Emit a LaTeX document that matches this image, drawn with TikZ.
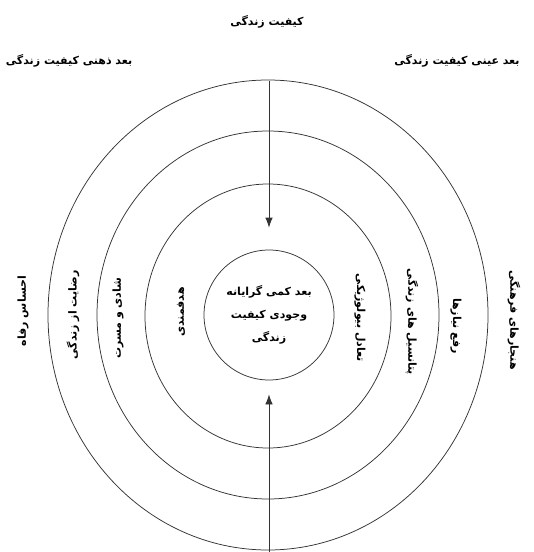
\documentclass[tikz,border=0pt]{standalone}
\usepackage{fontspec}
\newfontfamily\arabicfont[Script=Arabic]{DejaVu Sans}
\TeXXeTstate=1
\usetikzlibrary{arrows.meta}
\newcommand{\rl}[1]{\beginR #1\endR}

\begin{document}
\begin{tikzpicture}[
  x=1pt,
  y=-1pt,
  font=\arabicfont\bfseries\fontsize{11}{23}\selectfont,
  line/.style={draw=black!80,line width=0.75pt},
  arrow/.style={line,-{Latex[length=10pt,width=7.5pt]}},
  ring/.style={line},
  lefttext/.style={rotate=90},
  righttext/.style={rotate=-90}
]
\useasboundingbox (0,0) rectangle (534,552);

% Headings
\node (title) at (267,22) {\rl{کیفیت زندگی}};
\node (subjective) at (69,61) {\rl{بعد ذهنی کیفیت زندگی}};
\node (objective) at (457,61) {\rl{بعد عینی کیفیت زندگی}};

% Rings
\draw[ring] (268,315) ellipse [x radius=220, y radius=235];
\draw[ring] (268,315) ellipse [x radius=171, y radius=184];
\draw[ring] (268,316) ellipse [x radius=123, y radius=132];

% Core
\node[line,circle,minimum size=130pt,inner sep=0pt,align=center] (core) at (269,315)
  {\rl{بعد کمی گرایانه}\\\rl{وجودی کیفیت}\\\rl{زندگی}};

% Subjective side
\node[lefttext] (welfare) at (23,311) {\rl{احساس رفاه}};
\node[lefttext] (satisfaction) at (73,315) {\rl{رضایت از زندگی}};
\node[lefttext] (joy) at (118,318) {\rl{شادی و مسرت}};
\node[lefttext] (purpose) at (181,312) {\rl{هدفمندی}};

% Objective side
\node[righttext] (balance) at (360,318) {\rl{تعادل بیولوژیکی}};
\node[righttext] (potential) at (412,322) {\rl{پتانسیل های زندگی}};
\node[righttext] (needs) at (456,326) {\rl{رفع نیازها}};
\node[righttext] (norms) at (514,320) {\rl{هنجارهای فرهنگی}};

% Arrows into the core
\coordinate (topin) at (269,81);
\coordinate (botin) at (269,552);
\draw[arrow,shorten >=22pt] (topin) -- (core.north);
\draw[arrow,shorten >=14pt] (botin) -- (core.south);

\end{tikzpicture}
\end{document}
